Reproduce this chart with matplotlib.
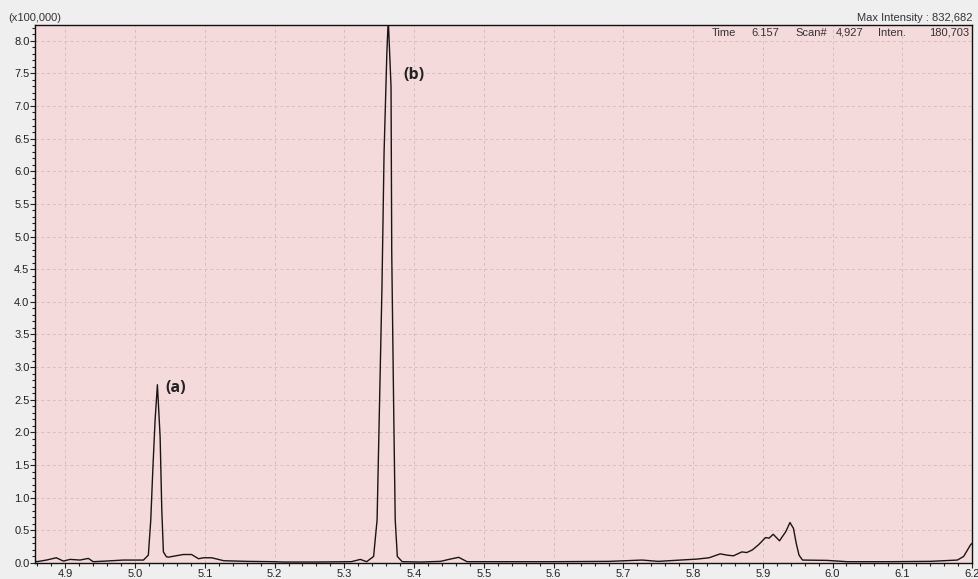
import matplotlib.pyplot as plt
from matplotlib.ticker import MultipleLocator

plt.rcParams['font.family'] = ['Liberation Sans', 'DejaVu Sans']

# retention time (min) and intensity (x100,000)
rt = [4.857, 4.859, 4.873, 4.887, 4.897, 4.907, 4.921, 4.933, 4.940, 4.959, 4.983,
      5.012, 5.019, 5.0225, 5.0254, 5.0287, 5.032, 5.0359, 5.0383, 5.0406, 5.045,
      5.048, 5.069, 5.081, 5.091, 5.098, 5.110, 5.127, 5.160, 5.198, 5.213, 5.260,
      5.310, 5.323, 5.332, 5.342, 5.347, 5.350, 5.354, 5.357, 5.361, 5.363, 5.367,
      5.368, 5.371, 5.373, 5.376, 5.383, 5.410, 5.438, 5.452, 5.464, 5.476, 5.520,
      5.600, 5.680, 5.727, 5.750, 5.782, 5.806, 5.823, 5.839, 5.849, 5.858, 5.870,
      5.877, 5.885, 5.894, 5.904, 5.909, 5.915, 5.924, 5.933, 5.939, 5.944, 5.948,
      5.952, 5.957, 5.992, 6.021, 6.080, 6.140, 6.179, 6.188, 6.198, 6.200]
inten = [0.03, 0.02, 0.045, 0.08, 0.03, 0.055, 0.045, 0.07, 0.02, 0.03, 0.045,
         0.045, 0.12, 0.66, 1.42, 2.19, 2.73, 1.93, 0.81, 0.17, 0.095,
         0.09, 0.13, 0.13, 0.065, 0.08, 0.08, 0.035, 0.025, 0.02, 0.015, 0.015,
         0.02, 0.055, 0.02, 0.10, 0.66, 2.19, 4.23, 6.28, 7.81, 8.33, 7.29,
         4.75, 2.19, 0.66, 0.10, 0.02, 0.015, 0.025, 0.06, 0.087, 0.02, 0.02,
         0.02, 0.025, 0.045, 0.025, 0.045, 0.06, 0.08, 0.14, 0.12, 0.11, 0.17,
         0.16, 0.20, 0.28, 0.39, 0.38, 0.44, 0.34, 0.48, 0.62, 0.53, 0.30,
         0.12, 0.045, 0.04, 0.02, 0.02, 0.025, 0.045, 0.10, 0.28, 0.30]

peak_names = ['(a)', '(b)']
peak_rt = [5.032, 5.363]
peak_top = [2.73, 8.33]

fig = plt.figure(figsize=(9.79, 5.79), dpi=100, facecolor='#efefef')
ax = fig.add_axes([35 / 979, 16 / 579, 937 / 979, 538 / 579])
ax.set_facecolor('#f5dadc')

ax.plot(rt, inten, color='#1a1414', lw=1.0)

ax.set_xlim(4.8565, 6.2)
ax.set_ylim(0, 8.24)
ax.xaxis.set_major_locator(MultipleLocator(0.1))
ax.xaxis.set_minor_locator(MultipleLocator(0.02))
ax.yaxis.set_major_locator(MultipleLocator(0.5))
ax.yaxis.set_minor_locator(MultipleLocator(0.1))
ax.xaxis.set_major_formatter(lambda v, p: f'{v:.1f}')
ax.yaxis.set_major_formatter(lambda v, p: f'{v:.1f}')
ax.tick_params(which='major', length=3.5, width=0.8, labelsize=8, colors='#222222', pad=0.5)
ax.tick_params(which='minor', length=2.5, width=0.8, colors='#222222')
ax.grid(which='major', color='#d3bec1', ls=(0, (3, 3)), lw=0.7)
for s in ax.spines.values():
    s.set_color('#111111')
    s.set_linewidth(1.0)

# peak labels
ax.text(peak_rt[0] + 0.012, peak_top[0] - 0.05, peak_names[0], fontsize=11.5,
        fontweight='bold', family='Open Sans', color='#222222', va='center')
ax.text(peak_rt[1] + 0.022, peak_top[1] - 0.86, peak_names[1], fontsize=11.5,
        fontweight='bold', family='Open Sans', color='#222222', va='center')

fig.text(8 / 979, 1 - 18 / 579, '(x100,000)', fontsize=8, color='#333333', va='center')
fig.text(973 / 979, 1 - 18 / 579, 'Max Intensity : 832,682', fontsize=8,
         color='#333333', va='center', ha='right')
ax.text(0.722, 0.986, 'Time', transform=ax.transAxes, fontsize=8, color='#333333', va='center')
ax.text(0.765, 0.986, '6.157', transform=ax.transAxes, fontsize=8, color='#333333', va='center')
ax.text(0.812, 0.986, 'Scan#', transform=ax.transAxes, fontsize=8, color='#333333', va='center')
ax.text(0.855, 0.986, '4,927', transform=ax.transAxes, fontsize=8, color='#333333', va='center')
ax.text(0.9, 0.986, 'Inten.', transform=ax.transAxes, fontsize=8, color='#333333', va='center')
ax.text(0.997, 0.986, '180,703', transform=ax.transAxes, fontsize=8, color='#333333',
        va='center', ha='right')

fig.savefig('out.png', dpi=100, facecolor=fig.get_facecolor())
